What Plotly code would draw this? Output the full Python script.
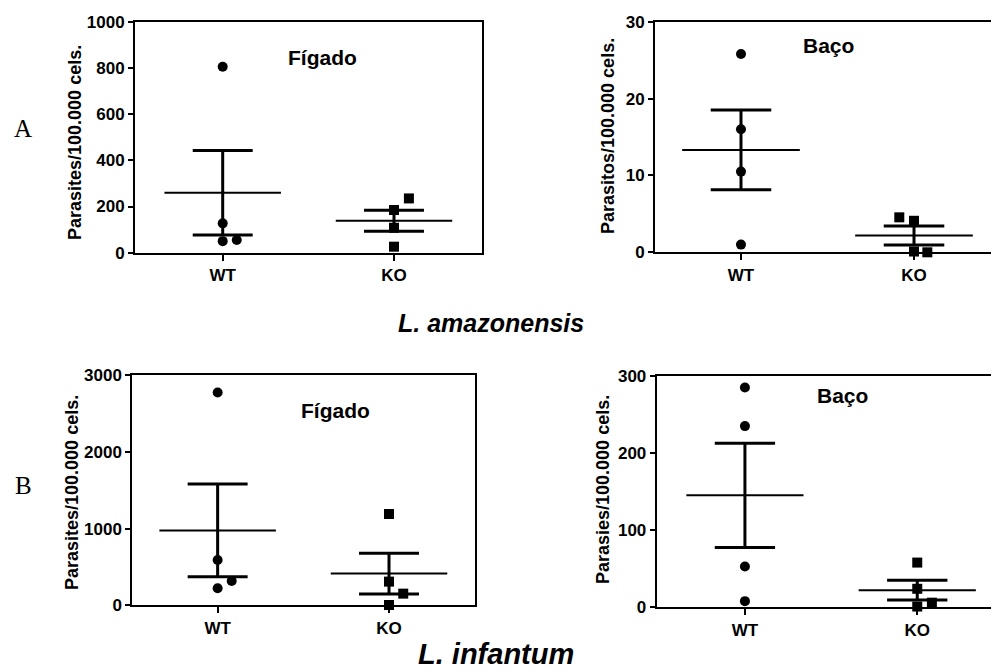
import numpy as np
import plotly.graph_objects as go

W, H = 991, 671

groups = ["WT", "KO"]

# Parasite load per 100.000 cells, one value per animal
amaz_figado_wt = [805, 127, 50, 55]
amaz_figado_ko = [235, 185, 108, 26]
amaz_baco_wt = [25.8, 16.0, 10.5, 1.0]
amaz_baco_ko = [4.55, 4.1, 0.1, 0.0]
inf_figado_wt = [2775, 591, 317, 222]
inf_figado_ko = [1191, 309, 152, 4]
inf_baco_wt = [285, 235, 53, 8]
inf_baco_ko = [58, 24, 6, 1]

# sideways spread of overlapping points (category units)
spread_amaz_figado_wt = [0, 0, 0, 0.082]
spread_amaz_figado_ko = [0.087, 0, 0, 0]
spread_amaz_baco_wt = [0, 0, 0, 0]
spread_amaz_baco_ko = [-0.085, 0, 0, 0.077]
spread_inf_figado_wt = [0, 0, 0.082, 0]
spread_inf_figado_ko = [0, 0, 0.083, 0]
spread_inf_baco_wt = [0, 0, 0, 0]
spread_inf_baco_ko = [0, 0, 0.085, 0]

# y ticks
ticks_amaz_figado = [0, 200, 400, 600, 800, 1000]
ticks_amaz_baco = [0, 10, 20, 30]
ticks_inf_figado = [0, 1000, 2000, 3000]
ticks_inf_baco = [0, 100, 200, 300]

SANS = "Liberation Sans, Arial, sans-serif"
SERIF = "Liberation Serif, Times New Roman, serif"


def px_x(p):
    return p / W


def px_y(p):
    return 1 - p / H


panels = [
    dict(wt=amaz_figado_wt, ko=amaz_figado_ko, swt=spread_amaz_figado_wt, sko=spread_amaz_figado_ko,
         ticks=ticks_amaz_figado, xdom=(135, 481.7), ydom=(21.7, 252.7), xr=(-0.512, 1.512),
         title="Fígado", tpos=(322, 57), ylab="Parasites/100.000 cels.", ylpos=(75, 143), box=True),
    dict(wt=amaz_baco_wt, ko=amaz_baco_ko, swt=spread_amaz_baco_wt, sko=spread_amaz_baco_ko,
         ticks=ticks_amaz_baco, xdom=(655, 991), ydom=(21.7, 252.3), xr=(-0.497, 1.445),
         title="Baço", tpos=(828, 45), ylab="Parasitos/100.000 cels.", ylpos=(608, 136), box=False),
    dict(wt=inf_figado_wt, ko=inf_figado_ko, swt=spread_inf_figado_wt, sko=spread_inf_figado_ko,
         ticks=ticks_inf_figado, xdom=(132.3, 474.7), ydom=(375.3, 605.3), xr=(-0.498, 1.50),
         title="Fígado", tpos=(335, 410), ylab="Parasites/100.000 cels.", ylpos=(72, 493), box=True),
    dict(wt=inf_baco_wt, ko=inf_baco_ko, swt=spread_inf_baco_wt, sko=spread_inf_baco_ko,
         ticks=ticks_inf_baco, xdom=(656.7, 991), ydom=(376, 607.3), xr=(-0.512, 1.428),
         title="Baço", tpos=(842, 395), ylab="Parasies/100.000 cels.", ylpos=(603, 490), box=False),
]

fig = go.Figure()
annotations = []
layout_axes = {}

MEAN_HALF = 0.34
CAP_HALF = 0.175

for i, p in enumerate(panels, start=1):
    xa = "x" if i == 1 else f"x{i}"
    ya = "y" if i == 1 else f"y{i}"
    for gi, (vals, spread, sym) in enumerate([(p["wt"], p["swt"], "circle"), (p["ko"], p["sko"], "square")]):
        v = np.asarray(vals, dtype=float)
        mean = v.mean()
        sem = v.std(ddof=1) / np.sqrt(len(v))
        # mean line
        fig.add_trace(go.Scatter(x=[gi - MEAN_HALF, gi + MEAN_HALF], y=[mean, mean], mode="lines",
                                 line=dict(color="black", width=2), xaxis=xa, yaxis=ya,
                                 showlegend=False, hoverinfo="skip", cliponaxis=False))
        # SEM bar with caps
        fig.add_trace(go.Scatter(
            x=[gi - CAP_HALF, gi + CAP_HALF, None, gi, gi, None, gi - CAP_HALF, gi + CAP_HALF],
            y=[mean + sem, mean + sem, None, mean + sem, mean - sem, None, mean - sem, mean - sem],
            mode="lines", line=dict(color="black", width=3), xaxis=xa, yaxis=ya,
            showlegend=False, hoverinfo="skip", cliponaxis=False))
        # individual animals
        fig.add_trace(go.Scatter(x=[gi + s for s in spread], y=v, mode="markers",
                                 marker=dict(symbol=sym, size=10, color="black", line=dict(width=0)),
                                 xaxis=xa, yaxis=ya, showlegend=False, cliponaxis=False))

    xkey = "xaxis" if i == 1 else f"xaxis{i}"
    ykey = "yaxis" if i == 1 else f"yaxis{i}"
    layout_axes[xkey] = dict(
        domain=[px_x(p["xdom"][0]), px_x(p["xdom"][1])], anchor=ya, range=list(p["xr"]),
        tickmode="array", tickvals=[0, 1], ticktext=groups, automargin=False,
        showline=True, linecolor="black", linewidth=2, mirror=True,
        ticks="outside", ticklen=6, tickwidth=2, tickcolor="black",
        showgrid=False, zeroline=False,
        tickfont=dict(family=SANS, size=17, color="black", weight="bold"),
    )
    layout_axes[ykey] = dict(
        domain=[px_y(p["ydom"][1]), px_y(p["ydom"][0])], anchor=xa,
        range=[p["ticks"][0], p["ticks"][-1]], automargin=False,
        tickmode="array", tickvals=p["ticks"],
        showline=True, linecolor="black", linewidth=2, mirror=p["box"],
        ticks="outside", ticklen=5, tickwidth=2, tickcolor="black",
        showgrid=False, zeroline=False,
        tickfont=dict(family=SANS, size=17, color="black", weight="bold"),
    )
    annotations.append(dict(text="<b>%s</b>" % p["title"], x=px_x(p["tpos"][0]), y=px_y(p["tpos"][1]),
                            xref="paper", yref="paper", xanchor="center", yanchor="middle",
                            showarrow=False, font=dict(family=SANS, size=21, color="black")))
    annotations.append(dict(text="<b>%s</b>" % p["ylab"], x=px_x(p["ylpos"][0]), y=px_y(p["ylpos"][1]),
                            xref="paper", yref="paper", xanchor="center", yanchor="middle",
                            textangle=-90, showarrow=False,
                            font=dict(family=SANS, size=18, color="black")))

# panel letters and species captions
annotations += [
    dict(text="A", x=px_x(23), y=px_y(129), xref="paper", yref="paper", showarrow=False,
         xanchor="center", yanchor="middle", font=dict(family=SERIF, size=25, color="black")),
    dict(text="B", x=px_x(23), y=px_y(485), xref="paper", yref="paper", showarrow=False,
         xanchor="center", yanchor="middle", font=dict(family=SERIF, size=25, color="black")),
    dict(text="<b><i>L. amazonensis</i></b>", x=px_x(491), y=px_y(323), xref="paper", yref="paper",
         showarrow=False, xanchor="center", yanchor="middle",
         font=dict(family=SANS, size=25, color="black")),
    dict(text="<b><i>L. infantum</i></b>", x=px_x(496), y=0, xref="paper", yref="paper",
         showarrow=False, xanchor="center", yanchor="bottom", borderpad=0,
         font=dict(family=SANS, size=29, color="black")),
]

fig.update_layout(
    width=W, height=H, margin=dict(l=0, r=0, t=0, b=0, autoexpand=False),
    paper_bgcolor="white", plot_bgcolor="white",
    annotations=annotations, showlegend=False,
    **layout_axes,
)

fig.write_html("out.html")
